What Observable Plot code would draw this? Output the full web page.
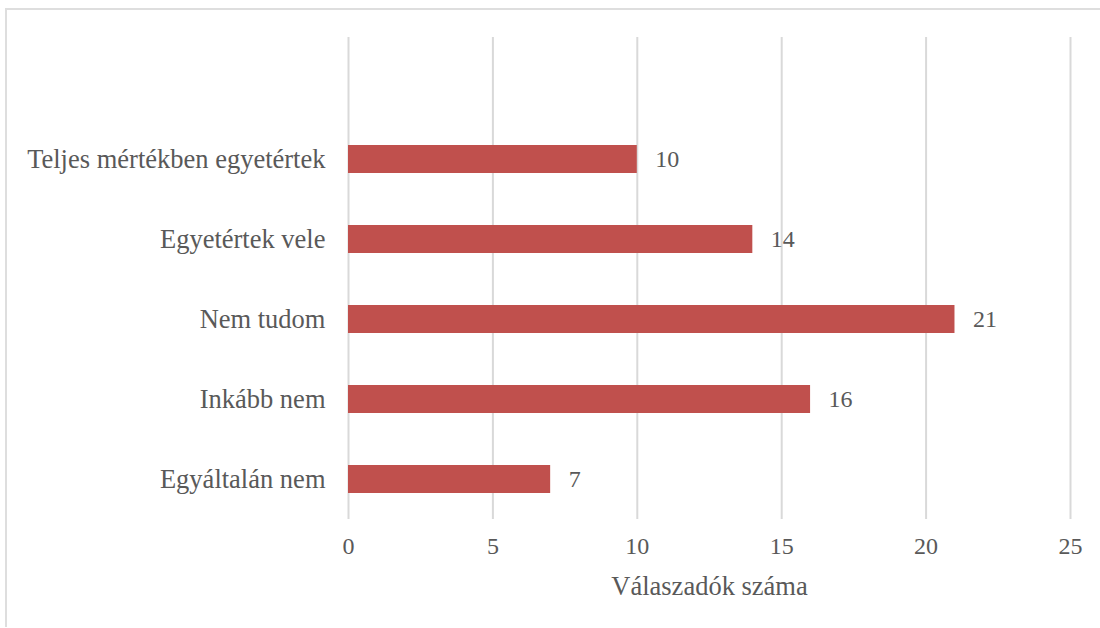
<!DOCTYPE html>
<html>
<head>
<meta charset="utf-8">
<script src="https://cdn.jsdelivr.net/npm/d3@7"></script>
<script src="https://cdn.jsdelivr.net/npm/@observablehq/plot@0.6"></script>
<style>
  html, body { margin: 0; padding: 0; background: #fff; }
  #wrap { position: relative; width: 1100px; height: 628px; overflow: hidden; }
  #frame { position: absolute; left: 5px; top: 8px; width: 1200px; height: 619px;
           border-top: 2px solid #dedede; border-left: 2px solid #dedede; box-sizing: border-box; }
  #chart { position: absolute; left: 0; top: 0; }
  #chart svg, #chart svg text, #chart svg g { font-family: "Liberation Serif", "Times New Roman", "DejaVu Serif", serif !important; font-size: 24px !important; }
  #chart svg g.ylab, #chart svg g.ylab text { font-size: 26.5px !important; }
  #chart svg g.xlabel, #chart svg g.xlabel text { font-size: 26.5px !important; }
</style>
</head>
<body>
<div id="wrap"><div id="frame"></div><div id="chart"></div></div>
<script>
const categories = ["Teljes mértékben egyetértek", "Egyetértek vele", "Nem tudom", "Inkább nem", "Egyáltalán nem"];
const values = [10, 14, 21, 16, 7];
const xTicks = [0, 5, 10, 15, 20, 25];
const xLabel = "Válaszadók száma";

const data = categories.map((c, i) => ({category: c, value: values[i]}));
const textColor = "#595959";

const chart = Plot.plot({
  width: 1100,
  height: 628,
  marginLeft: 348,
  marginRight: 30,
  marginTop: 37,
  marginBottom: 109,
  style: {background: "transparent", color: textColor},
  x: {domain: [0, 25], ticks: xTicks, label: null},
  y: {domain: categories, range: [118, 519], paddingInner: 0.65, paddingOuter: 0.325, label: null},
  marks: [
    Plot.gridX(xTicks, {stroke: "#d9d9d9", strokeOpacity: 1, strokeWidth: 2}),
    Plot.barX(data, {x: "value", y: "category", fill: "#C0504D"}),
    Plot.text(data, {x: "value", y: "category", text: d => String(d.value), textAnchor: "start", dx: 18, fill: textColor}),
    Plot.axisY({tickSize: 0, tickPadding: 23, fill: textColor, className: "ylab"}),
    Plot.axisX(xTicks, {tickSize: 0, tickPadding: 17, fill: textColor, label: null}),
    Plot.text([xLabel], {frameAnchor: "bottom", dy: 75, fill: textColor, text: d => d, className: "xlabel"})
  ]
});
document.getElementById("chart").appendChild(chart);
</script>
</body>
</html>
